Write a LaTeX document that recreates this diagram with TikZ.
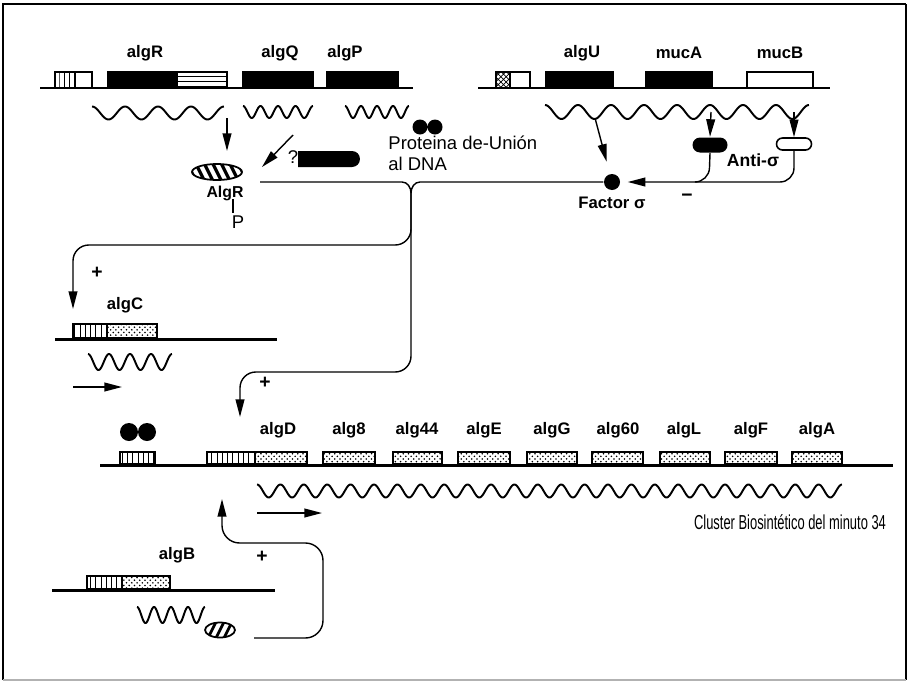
\documentclass[tikz,border=0pt]{standalone}
\usepackage{fontspec}
\setmainfont{Liberation Sans}
\usetikzlibrary{arrows.meta, patterns, fit, shapes.geometric, shapes.misc}

\begin{document}
\begin{tikzpicture}[x=0.02cm, y=-0.02cm, >={Triangle[length=10pt,width=5pt]},
    line width=0.8pt,
    dna/.style={line width=1.7pt},
    gene/.style={draw, line width=0.6pt, inner sep=0pt},
    blk/.style={gene, fill=black},
    vhatch/.style={gene, pattern=vertical lines},
    stip/.style={gene, pattern=crosshatch dots},
    wave/.style={line width=1.1pt},
    lbl/.style={font=\fontsize{9.5}{11}\selectfont\bfseries, inner sep=1pt},
    txt/.style={font=\fontsize{10.5}{12}\selectfont, inner sep=1pt}]
      \useasboundingbox (0,0) rectangle (909,683);

      % Frame
      \draw[line width=1.3pt] (906,4) -- (3,4) -- (3,680);
      \draw[line width=0.6pt] (906,4) -- (906,680);
      \draw[black!30, line width=1pt] (3,680) -- (906,680);

      % Operon algR-algQ-algP
      \draw[dna] (40,88) -- (413,88);
      \node[vhatch, fit={(55,72)(75,88)}] (prR) {};
      \node[gene, fit={(75,72)(92,88)}] (prRb) {};
      \node[blk, fit={(108,72)(177,88)}] (algR) {};
      \node[gene, pattern=horizontal lines, fit={(177,72)(227,88)}] (algRb) {};
      \node[blk, fit={(243,72)(313,88)}] (algQ) {};
      \node[blk, fit={(327,72)(398,88)}] (algP) {};
      \node[lbl] (lalgR) at (145,53) {algR};
      \node[lbl] (lalgQ) at (280,53) {algQ};
      \node[lbl] (lalgP) at (345,53) {algP};
      \draw[wave] plot[domain=0:4, samples=120, smooth] ({92+33*\x}, {113-6.5*cos(360*\x)});
      \draw[wave] plot[domain=0:4, samples=120, smooth] ({243+17.5*\x}, {112-6*cos(360*\x)});
      \draw[wave] plot[domain=0:4, samples=120, smooth] ({345+16*\x}, {112-6*cos(360*\x)});

      % Operon algU-mucA-mucB
      \draw[dna] (478,88) -- (830,88);
      \node[gene, pattern=crosshatch, fit={(496,72)(510,88)}] (prU) {};
      \node[gene, fit={(510,72)(530,88)}] (prUb) {};
      \node[blk, fit={(546,72)(613,88)}] (algU) {};
      \node[blk, fit={(646,72)(712,88)}] (mucA) {};
      \node[gene, fit={(747,72)(813,88)}] (mucB) {};
      \node[lbl] (lalgU) at (582,53) {algU};
      \node[lbl] (lmucA) at (679,53) {mucA};
      \node[lbl] (lmucB) at (780,53) {mucB};
      \draw[wave] plot[domain=0:8, samples=240, smooth] ({545+33*\x}, {112-7*cos(360*\x)});

      % Proteins
      \node[ellipse, draw, line width=1pt, minimum width=1cm, minimum height=0.32cm, inner sep=0pt,
        path picture={\foreach \k in {-3,...,3}
          \draw[line width=1.8pt] ([xshift=\k*0.17cm]path picture bounding box.center) ++(-0.1cm,0.2cm) -- ++(0.2cm,-0.4cm);}]
        (AlgRp) at (217,172) {};
      \node[lbl, font=\fontsize{9}{11}\selectfont\bfseries] (lAlgR) at (225,193) {AlgR};
      \node[txt] (P) at (238,222) {P};
      \coordinate (pbond) at (233,199);
      \draw[line width=0.6pt] (pbond) -- (pbond |- P.north);

      \node[fill=black, rounded rectangle, rounded rectangle left arc=none, minimum width=1.24cm, minimum height=0.32cm, inner sep=0pt] (kin) at (329,159) {};
      \node[txt] (q) at (293,157) {?};
      \coordinate (qs) at (293,135);
      \coordinate (qe) at (262,167);
      \draw[->] (qs) -- (qe);

      \fill (420,127) circle (7.5) (435,127) circle (7.5);
      \node (bind) at (427,127) {};
      \node[txt, align=left, anchor=north west] (lbind) at (386,133) {Proteina de-Unión\\al DNA};

      \node[circle, fill=black, minimum size=0.32cm, inner sep=0pt] (sig) at (612,182) {};
      \node[lbl] (lsig) at (612,203) {Factor σ};
      \node[fill=black, rounded rectangle, minimum width=0.7cm, minimum height=0.3cm, inner sep=0pt] (antiA) at (710,145) {};
      \node[draw, line width=0.9pt, rounded rectangle, minimum width=0.7cm, minimum height=0.24cm, inner sep=0pt] (antiB) at (794,144) {};
      \node[lbl, font=\fontsize{10}{12}\selectfont\bfseries] (lanti) at (753,160) {Anti-σ};
      \node[lbl, font=\fontsize{11}{12}\selectfont\bfseries] (minus) at (687,198) {−};

      % Arrows from transcripts
      \coordinate (wR) at (227,118);
      \coordinate (tR) at (227,151);
      \draw[->] (wR) -- (tR);
      \coordinate (wU) at (595,118);
      \draw[->, shorten >=7pt] (wU) -- (sig);
      \coordinate (wA) at (711,112);
      \draw[->] (wA) -- (antiA.north);
      \coordinate (wB) at (794,112);
      \draw[->] (wB) -- (antiB.north);

      % Anti-sigma inhibition
      \draw[->, rounded corners=8pt, shorten >=4pt] (antiB.south) -- (794,182) -- (sig.east);
      \draw[rounded corners=8pt] (antiA.south) -- (709,182) -- (695,182);

      % AlgR activation network
      \coordinate (jn) at (411,193);
      \draw (260,182) -- (402,182) to[out=0, in=90] (jn);
      \draw (sig.west) -- (420,182) to[out=180, in=90] (jn);
      \coordinate (tC) at (73,309);
      \coordinate (tD) at (240,417);
      \draw[->, rounded corners=9pt] (jn) -- (411,245) -- (73,245) -- (tC);
      \draw[->, rounded corners=9pt] (jn) -- (411,372) -- (240,372) -- (tD);
      \node[lbl, font=\fontsize{11}{12}\selectfont\bfseries] (plC) at (97,273) {+};
      \node[lbl, font=\fontsize{11}{12}\selectfont\bfseries] (plD) at (265,383) {+};

      % algC
      \draw[dna] (55,339) -- (277,339);
      \node[vhatch, fit={(73,324)(107,338)}] (prC) {};
      \node[stip, fit={(107,324)(157,338)}] (algC) {};
      \node[lbl] (lalgC) at (125,305) {algC};
      \draw[wave] plot[domain=0:4, samples=120, smooth] ({88+21*\x}, {362-8*cos(360*\x)});
      \coordinate (aC1) at (73,387);
      \coordinate (aC2) at (122,387);
      \draw[->] (aC1) -- (aC2);

      % Biosynthetic cluster
      \draw[dna] (100,465) -- (893,465);
      \node[vhatch, fit={(120,452)(155,464)}] (prX) {};
      \fill (129,432) circle (9) (147,432) circle (9);
      \node (bind2) at (138,432) {};
      \node[vhatch, fit={(207,452)(255,464)}] (prD) {};
      \node[stip, fit={(255,452)(307,464)}] (algD) {};
      \node[stip, fit={(323,452)(375,464)}] (alg8) {};
      \node[stip, fit={(393,452)(442,464)}] (alg44) {};
      \node[stip, fit={(458,452)(510,464)}] (algE) {};
      \node[stip, fit={(527,452)(577,464)}] (algG) {};
      \node[stip, fit={(592,452)(643,464)}] (alg60) {};
      \node[stip, fit={(660,452)(710,464)}] (algL) {};
      \node[stip, fit={(725,452)(777,464)}] (algF) {};
      \node[stip, fit={(792,452)(842,464)}] (algA) {};
      \node[lbl] (lalgD) at (278,430) {algD};
      \node[lbl] (lalg8) at (349,430) {alg8};
      \node[lbl] (lalg44) at (417,430) {alg44};
      \node[lbl] (lalgE) at (484,430) {algE};
      \node[lbl] (lalgG) at (552,430) {algG};
      \node[lbl] (lalg60) at (618,430) {alg60};
      \node[lbl] (lalgL) at (684,430) {algL};
      \node[lbl] (lalgF) at (751,430) {algF};
      \node[lbl] (lalgA) at (817,430) {algA};
      \draw[wave] plot[domain=0:25, samples=600, smooth] ({257+23.4*\x}, {491-6.5*cos(360*\x)});
      \coordinate (aD1) at (257,513);
      \coordinate (aD2) at (322,513);
      \draw[->] (aD1) -- (aD2);
      \node[txt, font=\fontsize{11.5}{13}\selectfont] (lclus) at (790,522) {\scalebox{0.64}[1]{Cluster Biosintético del minuto 34}};

      % algB
      \draw[dna] (52,590) -- (275,590);
      \node[vhatch, fit={(87,576)(122,589)}] (prB) {};
      \node[stip, fit={(122,576)(170,589)}] (algB) {};
      \node[lbl] (lalgB) at (177,555) {algB};
      \draw[wave] plot[domain=0:4, samples=120, smooth] ({137+17*\x}, {615-8*cos(360*\x)});
      \node[ellipse, draw, line width=1pt, minimum width=0.6cm, minimum height=0.3cm, inner sep=0pt,
        path picture={\foreach \k in {-1,...,1}
          \draw[line width=1.6pt] ([xshift=\k*0.16cm]path picture bounding box.center) ++(-0.1cm,-0.2cm) -- ++(0.2cm,0.4cm);}]
        (AlgBp) at (220,630) {};
      \coordinate (bs) at (254,638);
      \coordinate (tB) at (222,499);
      \draw[->, rounded corners=10pt] (bs) -- (323,638) -- (323,543) -- (222,543) -- (tB);
      \node[lbl, font=\fontsize{11}{12}\selectfont\bfseries] (plB) at (262,557) {+};
\end{tikzpicture}
\end{document}
